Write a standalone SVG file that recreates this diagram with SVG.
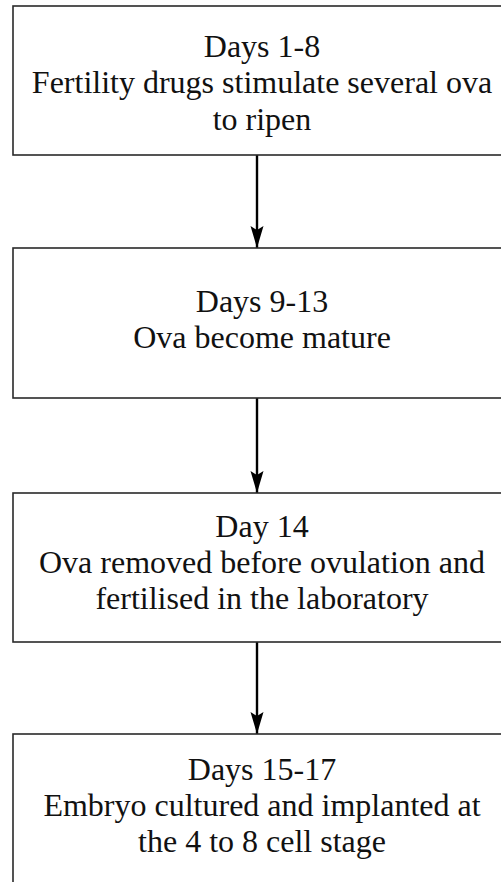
<svg xmlns="http://www.w3.org/2000/svg" width="501" height="882" viewBox="0 0 501 882">
<style>
  .box { fill: #ffffff; stroke: #2a2a2a; stroke-width: 1.6; }
  .lbl { font-family: "Liberation Serif", "Times New Roman", "DejaVu Serif", serif; font-size: 32px; fill: #111111; text-anchor: middle; }
  .conn { stroke: #000000; stroke-width: 2.4; fill: none; marker-end: url(#arr); }
</style>
<defs>
  <marker id="arr" markerUnits="userSpaceOnUse" markerWidth="24" markerHeight="14" refX="22" refY="7" orient="auto" viewBox="0 0 24 14">
    <path d="M0,0.5 L22,7 L0,13.5 L4,7 Z" fill="#000000"/>
  </marker>
</defs>
<rect width="501" height="882" fill="#ffffff"/>
<g id="connectors">
  <line class="conn" x1="257" y1="155" x2="257" y2="248"/>
  <line class="conn" x1="257" y1="398" x2="257" y2="493"/>
  <line class="conn" x1="257" y1="642" x2="257" y2="734"/>
</g>
<g id="node1">
  <rect class="box" x="13" y="6" width="500" height="149"/>
  <text class="lbl" x="262" y="57">Days 1-8</text>
  <text class="lbl" x="262" y="93">Fertility drugs stimulate several ova</text>
  <text class="lbl" x="262" y="130">to ripen</text>
</g>
<g id="node2">
  <rect class="box" x="13" y="248" width="500" height="150"/>
  <text class="lbl" x="262" y="312">Days 9-13</text>
  <text class="lbl" x="262" y="348">Ova become mature</text>
</g>
<g id="node3">
  <rect class="box" x="13" y="493" width="500" height="149"/>
  <text class="lbl" x="262" y="537">Day 14</text>
  <text class="lbl" x="262" y="573">Ova removed before ovulation and</text>
  <text class="lbl" x="262" y="609">fertilised in the laboratory</text>
</g>
<g id="node4">
  <rect class="box" x="13" y="734" width="500" height="160"/>
  <text class="lbl" x="262" y="780">Days 15-17</text>
  <text class="lbl" x="262" y="816">Embryo cultured and implanted at</text>
  <text class="lbl" x="262" y="852">the 4 to 8 cell stage</text>
</g>
</svg>
